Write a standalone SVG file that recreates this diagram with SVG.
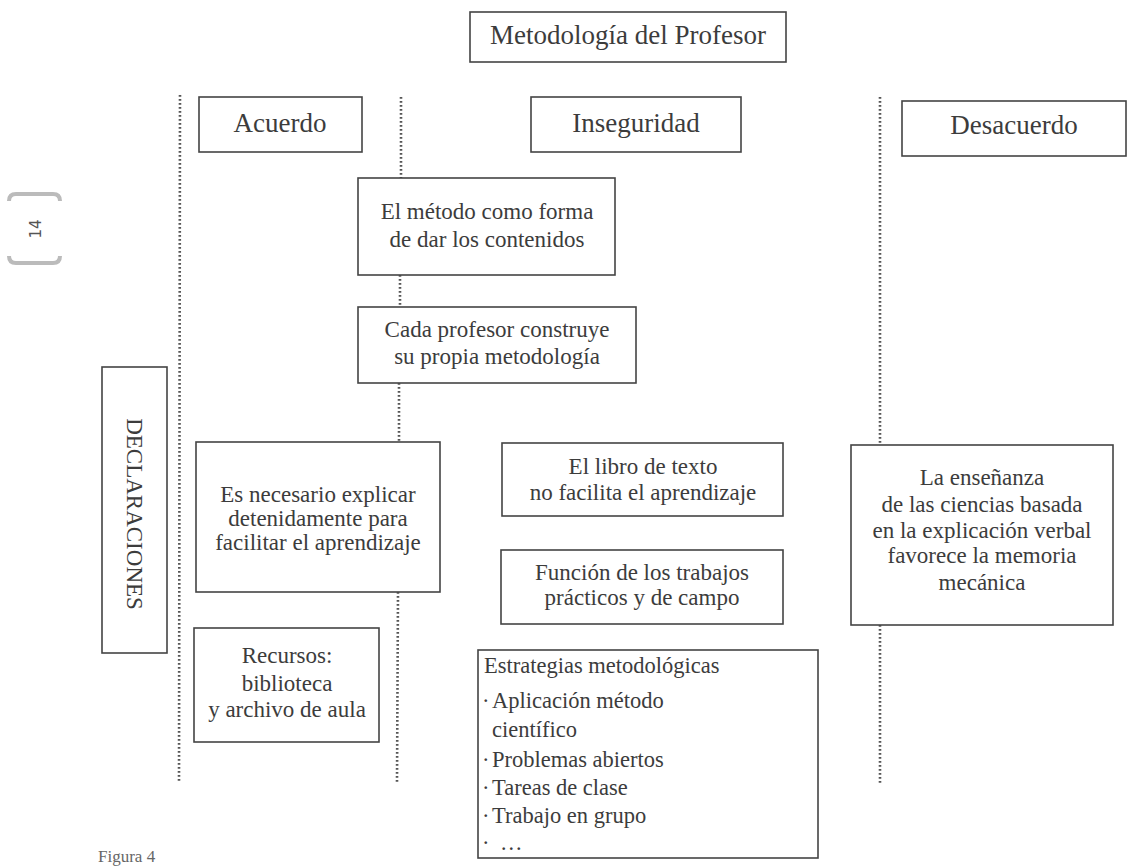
<svg xmlns="http://www.w3.org/2000/svg" width="1130" height="866" viewBox="0 0 1130 866">
<style>
.box{fill:none;stroke:#444;stroke-width:1.6}
.t{font-family:"Liberation Serif","Times New Roman",serif;fill:#3c3c3c;text-anchor:middle}
.h{font-size:27px}
.b{font-size:23px}
.l{font-family:"Liberation Serif","Times New Roman",serif;fill:#3c3c3c;font-size:22.5px}
.dot{fill:none;stroke:#555;stroke-width:2.6;stroke-dasharray:1.8 2.2}
</style>
<rect width="1130" height="866" fill="#fff"/>
<g id="connectors">
<line class="dot" x1="180" y1="95" x2="179" y2="782"/>
<line class="dot" x1="401" y1="97" x2="401" y2="178"/>
<line class="dot" x1="400" y1="275" x2="400" y2="307"/>
<line class="dot" x1="399" y1="383" x2="399" y2="442"/>
<line class="dot" x1="398" y1="592" x2="397" y2="782"/>
<line class="dot" x1="880" y1="97" x2="880" y2="445"/>
<line class="dot" x1="880" y1="625" x2="880" y2="785"/>
</g>
<g id="page-tab">
<path d="M9 201 Q9 194 16 194 L53 194 Q60 194 60 201" fill="none" stroke="#bbb" stroke-width="4"/>
<path d="M9 256 Q9 263 16 263 L53 263 Q60 263 60 256" fill="none" stroke="#bbb" stroke-width="4"/>
<text transform="translate(41,229) rotate(-90)" font-family="DejaVu Sans,sans-serif" font-size="15" fill="#555" text-anchor="middle">14</text>
</g>
<g id="title">
<rect class="box" x="470" y="12" width="316" height="50"/>
<text class="t h" x="628" y="44">Metodología del Profesor</text>
</g>
<g id="acuerdo">
<rect class="box" x="199" y="97" width="163" height="55"/>
<text class="t h" x="280" y="132">Acuerdo</text>
</g>
<g id="inseguridad">
<rect class="box" x="531" y="97" width="210" height="55"/>
<text class="t h" x="636" y="132">Inseguridad</text>
</g>
<g id="desacuerdo">
<rect class="box" x="902" y="101" width="224" height="55"/>
<text class="t h" x="1014" y="134">Desacuerdo</text>
</g>
<g id="metodo">
<rect class="box" x="358" y="178" width="257" height="97"/>
<text class="t b" x="487" y="219">El método como forma</text>
<text class="t b" x="487" y="247">de dar los contenidos</text>
</g>
<g id="cada-profesor">
<rect class="box" x="358" y="307" width="278" height="76"/>
<text class="t b" x="497" y="337">Cada profesor construye</text>
<text class="t b" x="497" y="364">su propia metodología</text>
</g>
<g id="declaraciones">
<rect class="box" x="102" y="367" width="65" height="286"/>
<text class="t b" transform="translate(127,514) rotate(90)">DECLARACIONES</text>
</g>
<g id="explicar">
<rect class="box" x="196" y="442" width="244" height="150"/>
<text class="t b" x="318" y="502">Es necesario explicar</text>
<text class="t b" x="318" y="526">detenidamente para</text>
<text class="t b" x="318" y="550">facilitar el aprendizaje</text>
</g>
<g id="recursos">
<rect class="box" x="194" y="628" width="185" height="114"/>
<text class="t b" x="287" y="663">Recursos:</text>
<text class="t b" x="287" y="691">biblioteca</text>
<text class="t b" x="287" y="717">y archivo de aula</text>
</g>
<g id="libro">
<rect class="box" x="502" y="443" width="281" height="73"/>
<text class="t b" x="643" y="474">El libro de texto</text>
<text class="t b" x="643" y="500">no facilita el aprendizaje</text>
</g>
<g id="funcion">
<rect class="box" x="501" y="550" width="282" height="74"/>
<text class="t b" x="642" y="580">Función de los trabajos</text>
<text class="t b" x="642" y="605">prácticos y de campo</text>
</g>
<g id="ensenanza">
<rect class="box" x="851" y="445" width="262" height="180"/>
<text class="t b" x="982" y="485">La enseñanza</text>
<text class="t b" x="982" y="512">de las ciencias basada</text>
<text class="t b" x="982" y="538">en la explicación verbal</text>
<text class="t b" x="982" y="563">favorece la memoria</text>
<text class="t b" x="982" y="590">mecánica</text>
</g>
<g id="estrategias">
<rect class="box" x="478" y="650" width="340" height="208"/>
<text class="l" x="484" y="673">Estrategias metodológicas</text>
<text class="l" x="482" y="708">·</text><text class="l" x="492" y="708">Aplicación método</text>
<text class="l" x="492" y="737">científico</text>
<text class="l" x="482" y="767">·</text><text class="l" x="492" y="767">Problemas abiertos</text>
<text class="l" x="482" y="795">·</text><text class="l" x="492" y="795">Tareas de clase</text>
<text class="l" x="482" y="823">·</text><text class="l" x="492" y="823">Trabajo en grupo</text>
<text class="l" x="482" y="850">·</text><text class="l" x="500" y="850">…</text>
</g>
<text x="98" y="862" font-family="Liberation Serif,serif" font-size="17" fill="#666">Figura 4</text>
</svg>
